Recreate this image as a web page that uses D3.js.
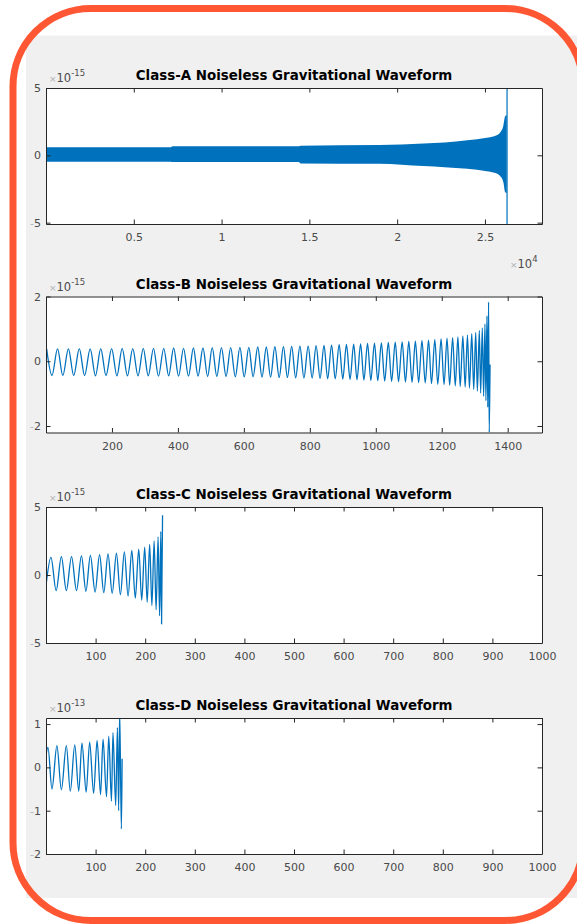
<!DOCTYPE html>
<html>
<head>
<meta charset="utf-8">
<script src="https://cdn.jsdelivr.net/npm/d3@7"></script>
<style>
  body { margin: 0; background: #fff; }
  svg { display: block; }
</style>
</head>
<body>
<svg width="577" height="924"></svg>
<script>
// ---- data ----
var titles = [
    "Class-A Noiseless Gravitational Waveform",
    "Class-B Noiseless Gravitational Waveform",
    "Class-C Noiseless Gravitational Waveform",
    "Class-D Noiseless Gravitational Waveform"
];
var xDomains = [[0, 28250], [0, 1504], [0, 1000], [0, 1000]];
var yDomains = [[-5.1, 5], [-2.2, 2], [-5, 5], [-2, 1.14]];
var xTicks = [
    [5000, 10000, 15000, 20000, 25000],
    [200, 400, 600, 800, 1000, 1200, 1400],
    [100, 200, 300, 400, 500, 600, 700, 800, 900, 1000],
    [100, 200, 300, 400, 500, 600, 700, 800, 900, 1000]
];
var xTickLabels = [
    ["0.5", "1", "1.5", "2", "2.5"],
    ["200", "400", "600", "800", "1000", "1200", "1400"],
    ["100", "200", "300", "400", "500", "600", "700", "800", "900", "1000"],
    ["100", "200", "300", "400", "500", "600", "700", "800", "900", "1000"]
];
var yTicks = [[-5, 0, 5], [-2, 0, 2], [-5, 0, 5], [-2, -1, 0, 1]];
var yExponents = ["-15", "-15", "-15", "-13"];
var xExponents = ["4", null, null, null];

// Class-A: too dense to see cycles, so only its envelope (x1e-15)
var aEnvT  = [0, 7100, 7200, 14400, 14500, 19000, 21500, 22700, 24000, 25100, 25600, 25900, 26050, 26150, 26240];
var aEnvUp = [0.6, 0.6, 0.68, 0.68, 0.72, 0.76, 0.88, 0.95, 1.12, 1.3, 1.45, 1.75, 2.2, 2.9, 3.0];
var aEnvLo = [-0.48, -0.48, -0.5, -0.5, -0.6, -0.62, -0.8, -0.88, -1.0, -1.18, -1.32, -1.6, -2.0, -2.75, -2.8];
var aMergerT = 26260;
var aMergerRange = [-5.3, 5.3];

// Class-B: peaks and troughs (x1e-15)
var bPeakT = [2, 35, 68, 101, 134, 166, 199, 231, 263, 295, 326, 357, 387, 417, 447, 476, 504, 532, 560, 588,
    615, 642, 668, 694, 720, 745, 770, 795, 819, 843, 866, 889, 911, 933, 954, 975, 996, 1017, 1038, 1059,
    1080, 1100, 1120, 1140, 1160, 1179, 1198, 1216, 1233, 1249, 1264, 1278, 1291, 1303, 1314, 1323, 1331, 1337, 1342];
var bPeakV = [0.38, 0.38, 0.38, 0.39, 0.38, 0.39, 0.39, 0.40, 0.39, 0.40, 0.40, 0.40, 0.41, 0.40, 0.41, 0.41, 0.42, 0.42, 0.42, 0.43,
    0.43, 0.44, 0.44, 0.45, 0.45, 0.46, 0.47, 0.47, 0.48, 0.49, 0.50, 0.51, 0.52, 0.53, 0.54, 0.55, 0.56, 0.57, 0.58, 0.59,
    0.60, 0.61, 0.62, 0.64, 0.65, 0.67, 0.69, 0.71, 0.73, 0.75, 0.78, 0.81, 0.85, 0.89, 0.95, 1.03, 1.15, 1.40, 1.83];
var bTroughT = [18, 51, 84, 117, 150, 182, 215, 247, 279, 310, 341, 372, 402, 432, 461, 490, 518, 546, 574, 601,
    628, 655, 681, 707, 732, 757, 782, 807, 831, 854, 877, 900, 922, 943, 964, 985, 1006, 1027, 1048, 1069,
    1090, 1110, 1130, 1150, 1169, 1188, 1207, 1224, 1241, 1256, 1271, 1284, 1297, 1308, 1318, 1327, 1334, 1339.5, 1344, 1346.5];
var bTroughV = [-0.44, -0.44, -0.44, -0.44, -0.45, -0.44, -0.45, -0.45, -0.45, -0.45, -0.46, -0.45, -0.46, -0.46, -0.46, -0.47, -0.47, -0.47, -0.48, -0.48,
    -0.48, -0.49, -0.49, -0.50, -0.50, -0.51, -0.52, -0.52, -0.53, -0.54, -0.54, -0.55, -0.56, -0.57, -0.58, -0.59, -0.60, -0.61, -0.62, -0.63,
    -0.64, -0.65, -0.66, -0.67, -0.69, -0.71, -0.72, -0.74, -0.76, -0.78, -0.80, -0.83, -0.87, -0.92, -0.98, -1.08, -1.22, -1.42, -2.2, -0.1];

// Class-C: extrema in order (x1e-15)
var cT = [0, 10, 20.5, 31, 41, 51.5, 61.5, 71.5, 80.5, 89.5, 99, 108, 116.5, 125, 133.5, 142, 150, 158, 165.5,
    173, 180, 187, 193, 199, 204, 209, 213.5, 218, 222, 226, 229, 231.5, 233, 235];
var cV = [-0.8, 1.3, -1.15, 1.35, -1.15, 1.35, -1.15, 1.4, -1.2, 1.45, -1.25, 1.5, -1.3, 1.55, -1.35, 1.6, -1.45, 1.7, -1.55,
    1.8, -1.7, 1.9, -1.85, 2.05, -2.0, 2.25, -2.25, 2.5, -2.55, 2.8, -3.0, 3.2, -3.6, 4.4];

// Class-D: extrema in order (x1e-13)
var dT = [0, 4, 12, 22, 31, 41, 49, 58, 66, 72.5, 81, 88, 96, 103, 110, 115, 122, 126.5, 132, 135, 140.5, 144, 146.5, 148.5, 152, 153.5];
var dV = [0.28, 0.46, -0.5, 0.5, -0.52, 0.5, -0.55, 0.52, -0.55, 0.56, -0.57, 0.58, -0.6, 0.62, -0.63, 0.65, -0.68, 0.72,
    -0.78, 0.8, -0.88, 0.92, -1.0, 1.3, -1.42, 0.2];

// ---- layout ----
var svg = d3.select("svg");
var blue = "#0072BD", axisColor = "#262626", labelColor = "#4a4a4a";
var axLeft = 46, axRight = 542, axH = 136;
var axTops = [88, 296.5, 507, 718];

svg.append("rect")
    .attr("x", 26).attr("y", 35.5)
    .attr("width", 577 - 26).attr("height", 898 - 35.5)
    .attr("fill", "#f0f0f0");

function pairs(ts, vs) {
    return ts.map(function (t, i) { return {t: t, v: vs[i]}; });
}

var bPoints = pairs(bPeakT, bPeakV).concat(pairs(bTroughT, bTroughV))
    .sort(function (a, b) { return a.t - b.t; });
var waves = [null, bPoints, pairs(cT, cV), pairs(dT, dV)];

function faintMinus(sel) {
    sel.selectAll(".tick text").each(function () {
        var t = d3.select(this), s = t.text();
        if (s.charAt(0) === "-") {
            t.text("");
            t.append("tspan").attr("fill", "#b5b5b5").text("-");
            t.append("tspan").text(s.slice(1));
        }
    });
}

function styleAxis(g) {
    g.attr("font-family", null).attr("font-size", null);
    g.select(".domain").attr("stroke", axisColor);
    g.selectAll(".tick line").attr("stroke", axisColor);
    g.selectAll(".tick text").attr("fill", labelColor);
}

titles.forEach(function (title, i) {
    var top = axTops[i], bottom = top + axH;
    var x = d3.scaleLinear().domain(xDomains[i]).range([axLeft, axRight]);
    var y = d3.scaleLinear().domain(yDomains[i]).range([bottom, top]);

    var g = svg.append("g")
        .style("font-family", "'DejaVu Sans', sans-serif")
        .style("font-size", "11px");

    g.append("rect")
        .attr("x", axLeft).attr("y", top)
        .attr("width", axRight - axLeft).attr("height", axH)
        .attr("fill", "#fff");

    g.append("clipPath").attr("id", "clip" + i)
        .append("rect")
        .attr("x", axLeft).attr("y", top)
        .attr("width", axRight - axLeft).attr("height", axH);

    var plot = g.append("g").attr("clip-path", "url(#clip" + i + ")");

    if (i === 0) {
        var env = aEnvT.map(function (t, k) { return {t: t, up: aEnvUp[k], lo: aEnvLo[k]}; });
        plot.append("path")
            .datum(env)
            .attr("fill", blue)
            .attr("d", d3.area()
                .curve(d3.curveMonotoneX)
                .x(function (d) { return x(d.t); })
                .y0(function (d) { return y(d.lo); })
                .y1(function (d) { return y(d.up); }));
        plot.append("line")
            .attr("x1", x(aMergerT)).attr("x2", x(aMergerT))
            .attr("y1", y(aMergerRange[0])).attr("y2", y(aMergerRange[1]))
            .attr("stroke", blue).attr("stroke-width", 1.2);
    } else {
        plot.append("path")
            .datum(waves[i])
            .attr("fill", "none")
            .attr("stroke", blue)
            .attr("stroke-width", 1.3)
            .attr("d", d3.line()
                .curve(d3.curveMonotoneX)
                .x(function (d) { return x(d.t); })
                .y(function (d) { return y(d.v); }));
    }

    // axes, ticks pointing inward on all four sides
    var labels = xTickLabels[i];
    g.append("g")
        .attr("transform", "translate(0," + bottom + ")")
        .call(d3.axisBottom(x).tickValues(xTicks[i]).tickSizeInner(-4.5).tickSizeOuter(0).tickPadding(9.5)
            .tickFormat(function (d, k) { return labels[k]; }))
        .call(styleAxis);
    g.append("g")
        .attr("transform", "translate(0," + top + ")")
        .call(d3.axisTop(x).tickValues(xTicks[i]).tickSizeInner(-4.5).tickSizeOuter(0).tickFormat(""))
        .call(styleAxis);
    g.append("g")
        .attr("transform", "translate(" + axLeft + ",0)")
        .call(d3.axisLeft(y).tickValues(yTicks[i]).tickSizeInner(-4.5).tickSizeOuter(0).tickPadding(5)
            .tickFormat(function (d) { return String(d); }))
        .call(styleAxis)
        .call(faintMinus);
    g.append("g")
        .attr("transform", "translate(" + axRight + ",0)")
        .call(d3.axisRight(y).tickValues(yTicks[i]).tickSizeInner(-4.5).tickSizeOuter(0).tickFormat(""))
        .call(styleAxis);

    // y exponent
    var ye = g.append("text").attr("x", 49).attr("y", top - 6).attr("fill", labelColor);
    ye.append("tspan").attr("fill", "#b0b0b0").style("font-size", "9px").text("\u00d7");
    ye.append("tspan").style("font-size", "11.5px").text("10");
    ye.append("tspan").attr("dy", -6).style("font-size", "8.5px").text(yExponents[i]);

    // x exponent
    if (xExponents[i]) {
        var xe = g.append("text").attr("x", 510).attr("y", bottom + 43.5).attr("fill", labelColor);
        xe.append("tspan").attr("fill", "#b0b0b0").style("font-size", "9px").text("\u00d7");
        xe.append("tspan").style("font-size", "11.5px").text("10");
        xe.append("tspan").attr("dy", -6).style("font-size", "8.5px").text(xExponents[i]);
    }

    g.append("text")
        .attr("x", (axLeft + axRight) / 2)
        .attr("y", top - 8)
        .attr("text-anchor", "middle")
        .attr("fill", "#000")
        .style("font-weight", "bold")
        .style("font-size", "13.4px")
        .text(title);
});

// orange rounded frame
svg.append("rect")
    .attr("x", 13).attr("y", 8.5)
    .attr("width", 570).attr("height", 912)
    .attr("rx", 78).attr("ry", 78)
    .attr("fill", "none")
    .attr("stroke", "#ff5733")
    .attr("stroke-width", 7);
</script>
</body>
</html>
